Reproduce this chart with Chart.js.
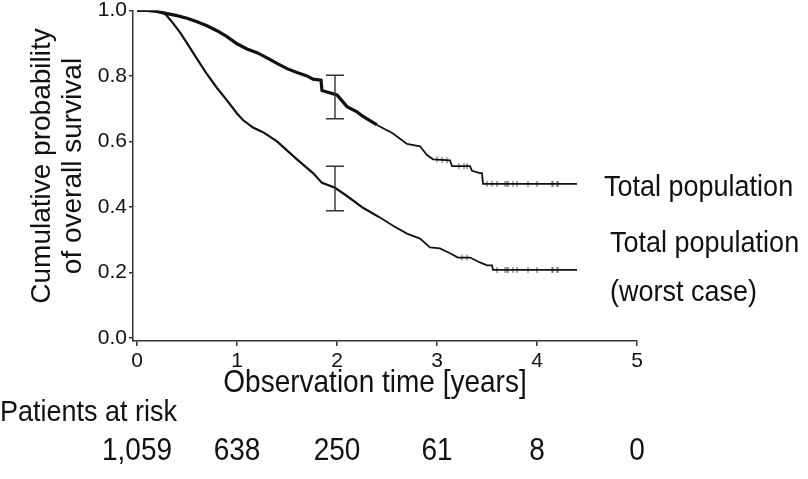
<!DOCTYPE html>
<html>
<head>
<meta charset="utf-8">
<title>Overall survival</title>
<script src="https://cdn.jsdelivr.net/npm/chart.js@4"></script>
<style>
  html, body { margin: 0; padding: 0; background: #fff; }
  #wrap { width: 808px; height: 479px; position: relative; }
</style>
</head>
<body>
<div id="wrap"><canvas id="kmChart"></canvas></div>
<script>
// Kaplan-Meier curves (time in years, survival probability)
const upperTimes = [0, 0.1, 0.2, 0.3, 0.4, 0.5, 0.6, 0.7, 0.8, 0.9, 1.0, 1.1, 1.2, 1.3, 1.4, 1.5, 1.6, 1.7, 1.76, 1.84, 1.85, 2.0, 2.1, 2.2, 2.26, 2.4, 2.56, 2.7, 2.83, 2.9, 2.96, 3.13, 3.15, 3.33, 3.35, 3.43, 3.45, 3.46, 4.4];
const upperSurv = [1.0, 1.0, 0.997, 0.99, 0.984, 0.976, 0.965, 0.953, 0.938, 0.92, 0.898, 0.882, 0.871, 0.855, 0.838, 0.822, 0.81, 0.8, 0.79, 0.787, 0.755, 0.742, 0.706, 0.69, 0.676, 0.65, 0.624, 0.592, 0.585, 0.558, 0.545, 0.542, 0.524, 0.524, 0.51, 0.503, 0.503, 0.47, 0.47];

const lowerTimes = [0, 0.1, 0.2, 0.28, 0.35, 0.43, 0.5, 0.6, 0.7, 0.8, 0.9, 1.0, 1.06, 1.16, 1.26, 1.4, 1.53, 1.6, 1.76, 1.85, 1.98, 2.1, 2.26, 2.43, 2.56, 2.7, 2.83, 2.93, 3.03, 3.13, 3.21, 3.33, 3.43, 3.5, 3.55, 3.56, 4.4];
const lowerSurv = [1.0, 1.0, 0.997, 0.99, 0.965, 0.933, 0.9, 0.852, 0.805, 0.763, 0.725, 0.685, 0.665, 0.642, 0.628, 0.6, 0.564, 0.545, 0.503, 0.473, 0.458, 0.433, 0.397, 0.367, 0.342, 0.318, 0.303, 0.276, 0.273, 0.258, 0.245, 0.245, 0.23, 0.221, 0.221, 0.207, 0.207];

// censored observations (tick marks)
const upperCensorTimes = [3.0, 3.05, 3.1, 3.22, 3.27, 3.3, 3.5, 3.55, 3.6, 3.68, 3.7, 3.71, 3.76, 3.8, 3.91, 4.0, 4.15, 4.16, 4.2, 4.21];
const upperCensorSurv = [0.545, 0.543, 0.542, 0.524, 0.524, 0.524, 0.47, 0.47, 0.47, 0.47, 0.47, 0.47, 0.47, 0.47, 0.47, 0.47, 0.47, 0.47, 0.47, 0.47];
const lowerCensorTimes = [3.25, 3.3, 3.6, 3.68, 3.7, 3.71, 3.76, 3.8, 3.91, 4.0, 4.15, 4.16, 4.2, 4.21];
const lowerCensorSurv = [0.245, 0.245, 0.207, 0.207, 0.207, 0.207, 0.207, 0.207, 0.207, 0.207, 0.207, 0.207, 0.207, 0.207];

// 2-year confidence bars
const ciTime = 1.98;
const ciLow = [0.669, 0.388];
const ciHigh = [0.802, 0.524];

// patients at risk
const atRiskTimes = [0, 1, 2, 3, 4, 5];
const atRiskCounts = ['1,059', '638', '250', '61', '8', '0'];

const FONT = '"Liberation Sans", Arial, sans-serif';
const INK = '#111';

const toPoints = (xs, ys) => xs.map((t, i) => ({ x: t, y: ys[i] }));

// text in the figure is a bit taller than regular Arial
function tallText(ctx, text, x, y, sy) {
    ctx.save();
    ctx.translate(x, y);
    ctx.scale(1, sy);
    ctx.fillText(text, 0, 0);
    ctx.restore();
}

// extra drawing: CI bars, curve labels, axis titles, risk table
const kmExtras = {
    id: 'kmExtras',
    afterDraw(chart) {
        const { ctx, scales: { x, y } } = chart;
        ctx.save();

        // confidence bars
        ctx.strokeStyle = '#333';
        ctx.lineWidth = 1.4;
        const cx = x.getPixelForValue(ciTime);
        ciLow.forEach((lo, i) => {
            const top = y.getPixelForValue(ciHigh[i]);
            const bot = y.getPixelForValue(lo);
            ctx.beginPath();
            ctx.moveTo(cx, top); ctx.lineTo(cx, bot);
            ctx.moveTo(cx - 9, top); ctx.lineTo(cx + 9, top);
            ctx.moveTo(cx - 9, bot); ctx.lineTo(cx + 9, bot);
            ctx.stroke();
        });

        ctx.fillStyle = INK;
        ctx.font = '27px ' + FONT;
        ctx.textBaseline = 'alphabetic';

        // curve labels
        const endX = x.getPixelForValue(upperTimes[upperTimes.length - 1]);
        ctx.textAlign = 'left';
        tallText(ctx, 'Total population', endX + 27, y.getPixelForValue(upperSurv[upperSurv.length - 1]) + 12, 1.1);
        const lowY = y.getPixelForValue(lowerSurv[lowerSurv.length - 1]);
        tallText(ctx, 'Total population', endX + 33, lowY - 18, 1.1);
        tallText(ctx, '(worst case)', endX + 33, lowY + 31, 1.1);

        // x title
        ctx.textAlign = 'center';
        ctx.font = '28px ' + FONT;
        tallText(ctx, 'Observation time [years]', x.getPixelForValue(2.38), 392, 1.1);

        // y title (two lines, rotated)
        ctx.save();
        ctx.translate(0, 166);
        ctx.rotate(-Math.PI / 2);
        ctx.fillText('Cumulative probability', 0, 50);
        ctx.fillText('of overall survival', 0, 81);
        ctx.restore();

        // patients at risk
        ctx.textAlign = 'left';
        ctx.font = '27px ' + FONT;
        tallText(ctx, 'Patients at risk', 0, 421, 1.1);
        ctx.textAlign = 'center';
        ctx.font = '28px ' + FONT;
        atRiskTimes.forEach((t, i) => {
            tallText(ctx, atRiskCounts[i], x.getPixelForValue(t), 460, 1.1);
        });

        ctx.restore();
    }
};

document.addEventListener('DOMContentLoaded', () => {
    const ctx = document.getElementById('kmChart').getContext('2d');
    new Chart(ctx, {
        type: 'line',
        data: {
            datasets: [
                {
                    label: 'Total population',
                    data: toPoints(upperTimes, upperSurv),
                    borderColor: INK,
                    borderWidth: 2,
                    segment: { borderWidth: c => c.p0.parsed.x < 2.3 ? 3.2 : 1.8 },
                    pointRadius: 0,
                    tension: 0,
                    fill: false
                },
                {
                    label: 'Total population (worst case)',
                    data: toPoints(lowerTimes, lowerSurv),
                    borderColor: INK,
                    borderWidth: 1.8,
                    segment: { borderWidth: c => c.p0.parsed.x < 2.3 ? 2.2 : 1.8 },
                    pointRadius: 0,
                    tension: 0,
                    fill: false
                },
                {
                    type: 'scatter',
                    data: toPoints(upperCensorTimes, upperCensorSurv),
                    pointStyle: 'line',
                    rotation: 90,
                    pointRadius: 3,
                    borderColor: '#555',
                    borderWidth: 1,
                    showLine: false
                },
                {
                    type: 'scatter',
                    data: toPoints(lowerCensorTimes, lowerCensorSurv),
                    pointStyle: 'line',
                    rotation: 90,
                    pointRadius: 3,
                    borderColor: '#555',
                    borderWidth: 1,
                    showLine: false
                }
            ]
        },
        options: {
            responsive: true,
            maintainAspectRatio: false,
            animation: false,
            devicePixelRatio: 1,
            layout: { padding: { left: 0, top: 8, right: 171, bottom: 0 } },
            plugins: {
                legend: { display: false },
                tooltip: { enabled: false }
            },
            scales: {
                x: {
                    type: 'linear',
                    min: -0.04,
                    max: 5,
                    afterFit: s => { s.height = 138; },
                    border: { color: '#333', width: 1.5 },
                    grid: { drawOnChartArea: false, tickLength: 5, color: '#333', lineWidth: 1.5 },
                    ticks: {
                        stepSize: 1,
                        includeBounds: false,
                        padding: 3,
                        color: '#111',
                        font: { family: FONT, size: 21 }
                    }
                },
                y: {
                    min: -0.01,
                    max: 1,
                    afterFit: s => { s.width = 133; },
                    border: { color: '#333', width: 1.5 },
                    grid: { drawOnChartArea: false, tickLength: 4, color: '#333', lineWidth: 1.5 },
                    ticks: {
                        stepSize: 0.2,
                        includeBounds: false,
                        padding: 2,
                        color: '#111',
                        font: { family: FONT, size: 21, lineHeight: 0.8 },
                        callback: v => v.toFixed(1)
                    }
                }
            }
        },
        plugins: [kmExtras]
    });
});
</script>
</body>
</html>
